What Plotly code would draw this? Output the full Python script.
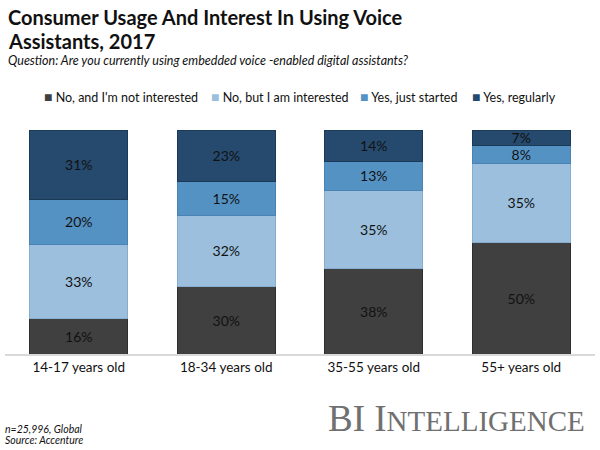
import plotly.graph_objects as go

categories = ["14-17 years old", "18-34 years old", "35-55 years old", "55+ years old"]
series_names = ["No, and I'm not interested", "No, but I am interested", "Yes, just started", "Yes, regularly"]
not_interested = [16, 30, 38, 50]
interested = [33, 32, 35, 35]
just_started = [20, 15, 13, 8]
regularly = [31, 23, 14, 7]

values = [not_interested, interested, just_started, regularly]
colors = ["#404040", "#9bbfdc", "#5592c4", "#254a6e"]
line_colors = ["#2e2e2e", "#86acd0", "#4a82b3", "#1b3a58"]

FONT = "Lato"
W, H = 600, 450
ML, MR, MT, MB = 5, 5, 130, 96
PW, PH = W - ML - MR, H - MT - MB

fig = go.Figure()
for name, vals, c, lc in zip(series_names, values, colors, line_colors):
    fig.add_trace(go.Bar(
        x=categories, y=vals, name=name,
        marker=dict(color=c, line=dict(color=lc, width=1)),
        text=[f"{v}%" for v in vals], textposition="inside",
        insidetextanchor="middle",
        textfont=dict(color="#111111", size=14, family=FONT),
        width=0.665, showlegend=False,
    ))

fig.update_layout(
    barmode="stack",
    width=W, height=H,
    margin=dict(l=ML, r=MR, t=MT, b=MB),
    paper_bgcolor="white", plot_bgcolor="white",
    font=dict(family=FONT, color="#111111"),
    uniformtext=dict(mode="show", minsize=10),
    xaxis=dict(showline=True, linecolor="#d9d9d9", linewidth=2, ticks="",
               tickfont=dict(size=13.5, family=FONT, color="#111111"),
               showgrid=False),
    yaxis=dict(range=[0, 100], visible=False, showgrid=False),
)


def add_text(text, px, py, size, family=FONT, color="#111111", xanchor="left", yanchor="middle"):
    fig.add_annotation(text=text, x=(px - ML) / PW, y=(H - MB - py) / PH,
                       xref="paper", yref="paper", xanchor=xanchor, yanchor=yanchor,
                       showarrow=False, font=dict(size=size, family=family, color=color),
                       align="left")


add_text("<b>Consumer Usage And Interest In Using Voice</b>", 6, 17, 20)
add_text("<b>Assistants, 2017</b>", 6, 41, 20)
add_text("<i>Question: Are you currently using embedded voice -enabled digital assistants?</i>", 6, 60, 12.5)
add_text("<i>n=25,996, Global</i>", 3, 429, 10.5)
add_text("<i>Source: Accenture</i>", 3, 440, 10.5)
add_text("BI I<span style='font-size:29px'>NTELLIGENCE</span>", 326, 418, 37,
         family="Liberation Serif", color="#707070")

# legend built from the series names/colours
legend_x = [42, 209, 358, 470]
for name, c, lx in zip(series_names, colors, legend_x):
    add_text(f"<span style='color:{c};font-size:14px'>■</span> {name}", lx, 96, 12.5)

fig.write_html("out.html")
